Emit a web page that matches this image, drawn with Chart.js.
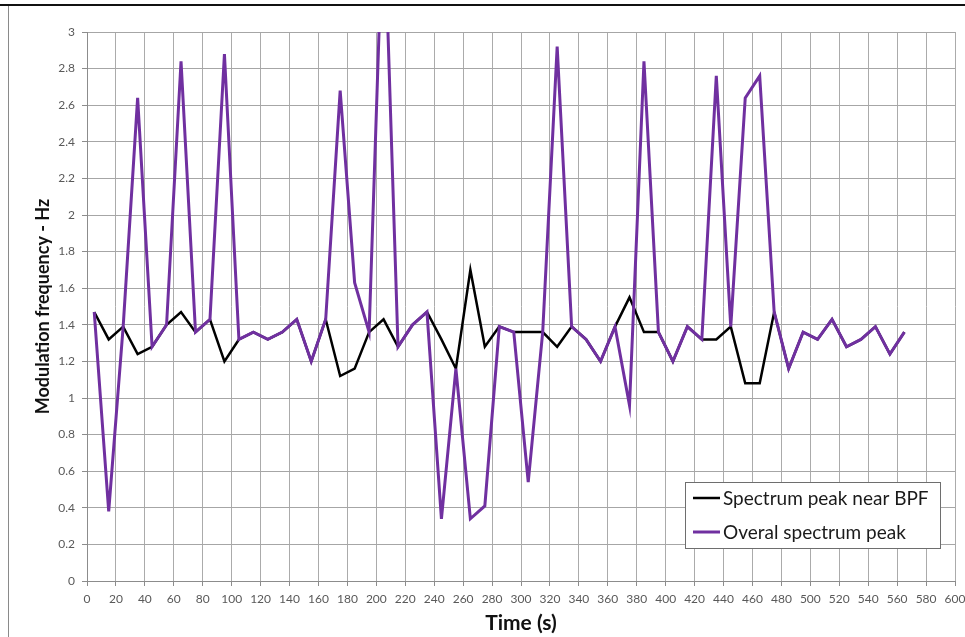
<!DOCTYPE html>
<html>
<head>
<meta charset="utf-8">
<script src="https://cdn.jsdelivr.net/npm/chart.js@4.4.1/dist/chart.umd.min.js"></script>
<style>
  body { margin: 0; background: #fff; }
  #wrap { position: relative; width: 965px; height: 637px; }
  #topLine { position: absolute; left: 0; top: 4px; width: 965px; height: 2px; background: #111; }
  #leftLine { position: absolute; left: 8px; top: 6px; width: 1px; height: 631px; background: #8a8a8a; }
</style>
</head>
<body>
<div id="wrap">
  <canvas id="freqChart" width="965" height="637"></canvas>
  <div id="topLine"></div>
  <div id="leftLine"></div>
</div>
<script>
  // Time stamps (s)
  const times = [5, 15, 25, 35, 45, 55, 65, 75, 85, 95, 105, 115, 125, 135, 145, 155, 165, 175, 185, 195,
    205, 215, 225, 235, 245, 255, 265, 275, 285, 295, 305, 315, 325, 335, 345, 355, 365, 375, 385, 395,
    405, 415, 425, 435, 445, 455, 465, 475, 485, 495, 505, 515, 525, 535, 545, 555, 565];

  // Spectrum peak near BPF (Hz)
  const bpfPeak = [1.47, 1.32, 1.39, 1.24, 1.28, 1.40, 1.47, 1.36, 1.43, 1.20, 1.32, 1.36, 1.32, 1.36, 1.43, 1.20, 1.43, 1.12, 1.16, 1.36,
    1.43, 1.28, 1.40, 1.47, 1.32, 1.16, 1.70, 1.28, 1.39, 1.36, 1.36, 1.36, 1.28, 1.39, 1.32, 1.20, 1.39, 1.55, 1.36, 1.36,
    1.20, 1.39, 1.32, 1.32, 1.39, 1.08, 1.08, 1.47, 1.16, 1.36, 1.32, 1.43, 1.28, 1.32, 1.39, 1.24, 1.36];

  // Overall spectrum peak (Hz)
  const overallPeak = [1.47, 0.38, 1.39, 2.64, 1.28, 1.40, 2.84, 1.36, 1.43, 2.88, 1.32, 1.36, 1.32, 1.36, 1.43, 1.20, 1.43, 2.68, 1.63, 1.36,
    3.75, 1.28, 1.40, 1.47, 0.34, 1.16, 0.34, 0.41, 1.39, 1.36, 0.54, 1.36, 2.92, 1.39, 1.32, 1.20, 1.39, 0.96, 2.84, 1.36,
    1.20, 1.39, 1.32, 2.76, 1.39, 2.64, 2.76, 1.47, 1.16, 1.36, 1.32, 1.43, 1.28, 1.32, 1.39, 1.24, 1.36];

  const seriesNames = ['Spectrum peak near BPF', 'Overal spectrum peak'];
  const seriesColors = ['#000000', '#7030a0'];

  const toPoints = vals => times.map((t, i) => ({ x: t, y: vals[i] }));

  // legend box drawn inside the plot, lower right
  const boxLegend = {
    id: 'boxLegend',
    afterDraw(chart) {
      const ctx = chart.ctx;
      ctx.save();
      ctx.fillStyle = '#ffffff';
      ctx.fillRect(685, 482, 256, 67);
      ctx.strokeStyle = '#6e6e6e';
      ctx.lineWidth = 1;
      ctx.strokeRect(685.5, 482.5, 255, 66);
      ctx.font = '19px Lato';
      ctx.textBaseline = 'middle';
      seriesNames.forEach((name, i) => {
        const y = 498 + i * 34;
        ctx.strokeStyle = seriesColors[i];
        ctx.lineWidth = i === 0 ? 2.5 : 3;
        ctx.beginPath();
        ctx.moveTo(693, y);
        ctx.lineTo(720, y);
        ctx.stroke();
        ctx.fillStyle = '#1a1a1a';
        ctx.fillText(name, 723, y + 1);
      });
      ctx.restore();
    }
  };

  const ctx = document.getElementById('freqChart').getContext('2d');
  const chart = new Chart(ctx, {
    type: 'line',
    data: {
      datasets: [{
        label: seriesNames[0],
        data: toPoints(bpfPeak),
        borderColor: seriesColors[0],
        borderWidth: 2.5,
        pointRadius: 0,
        tension: 0,
        order: 2
      }, {
        label: seriesNames[1],
        data: toPoints(overallPeak),
        borderColor: seriesColors[1],
        borderWidth: 3,
        pointRadius: 0,
        tension: 0,
        order: 1
      }]
    },
    options: {
      responsive: false,
      animation: false,
      layout: { padding: { top: 32, right: 0, left: 0, bottom: 0 } },
      plugins: {
        legend: { display: false },
        tooltip: { enabled: false }
      },
      scales: {
        x: {
          type: 'linear',
          min: 0,
          max: 600,
          afterFit: s => { s.height = 56; s.paddingRight = 10; },
          ticks: { stepSize: 20, autoSkip: false, maxRotation: 0, padding: 6, color: '#595959', font: { family: 'Lato', size: 12 } },
          grid: { color: '#ababab', tickColor: '#8c8c8c', tickLength: 5 },
          border: { color: '#8c8c8c' },
          title: { display: true, text: 'Time (s)', color: '#111', font: { family: 'Lato', size: 21, weight: 'bold' }, padding: { top: 0, bottom: 1 } }
        },
        y: {
          min: 0,
          max: 3,
          afterFit: s => { s.width = 87; },
          ticks: {
            stepSize: 0.2, padding: 7, color: '#595959', font: { family: 'Lato', size: 12 },
            callback: v => String(Number(v.toFixed(1)))
          },
          grid: { color: '#a6a6a6', tickColor: '#8c8c8c', tickLength: 5 },
          border: { color: '#8c8c8c' },
          title: { display: true, text: 'Modulation frequency - Hz', color: '#111', font: { family: 'Lato', size: 18, weight: 'bold' }, padding: { top: 32, bottom: 0 } }
        }
      }
    },
    plugins: [boxLegend]
  });
</script>
</body>
</html>
